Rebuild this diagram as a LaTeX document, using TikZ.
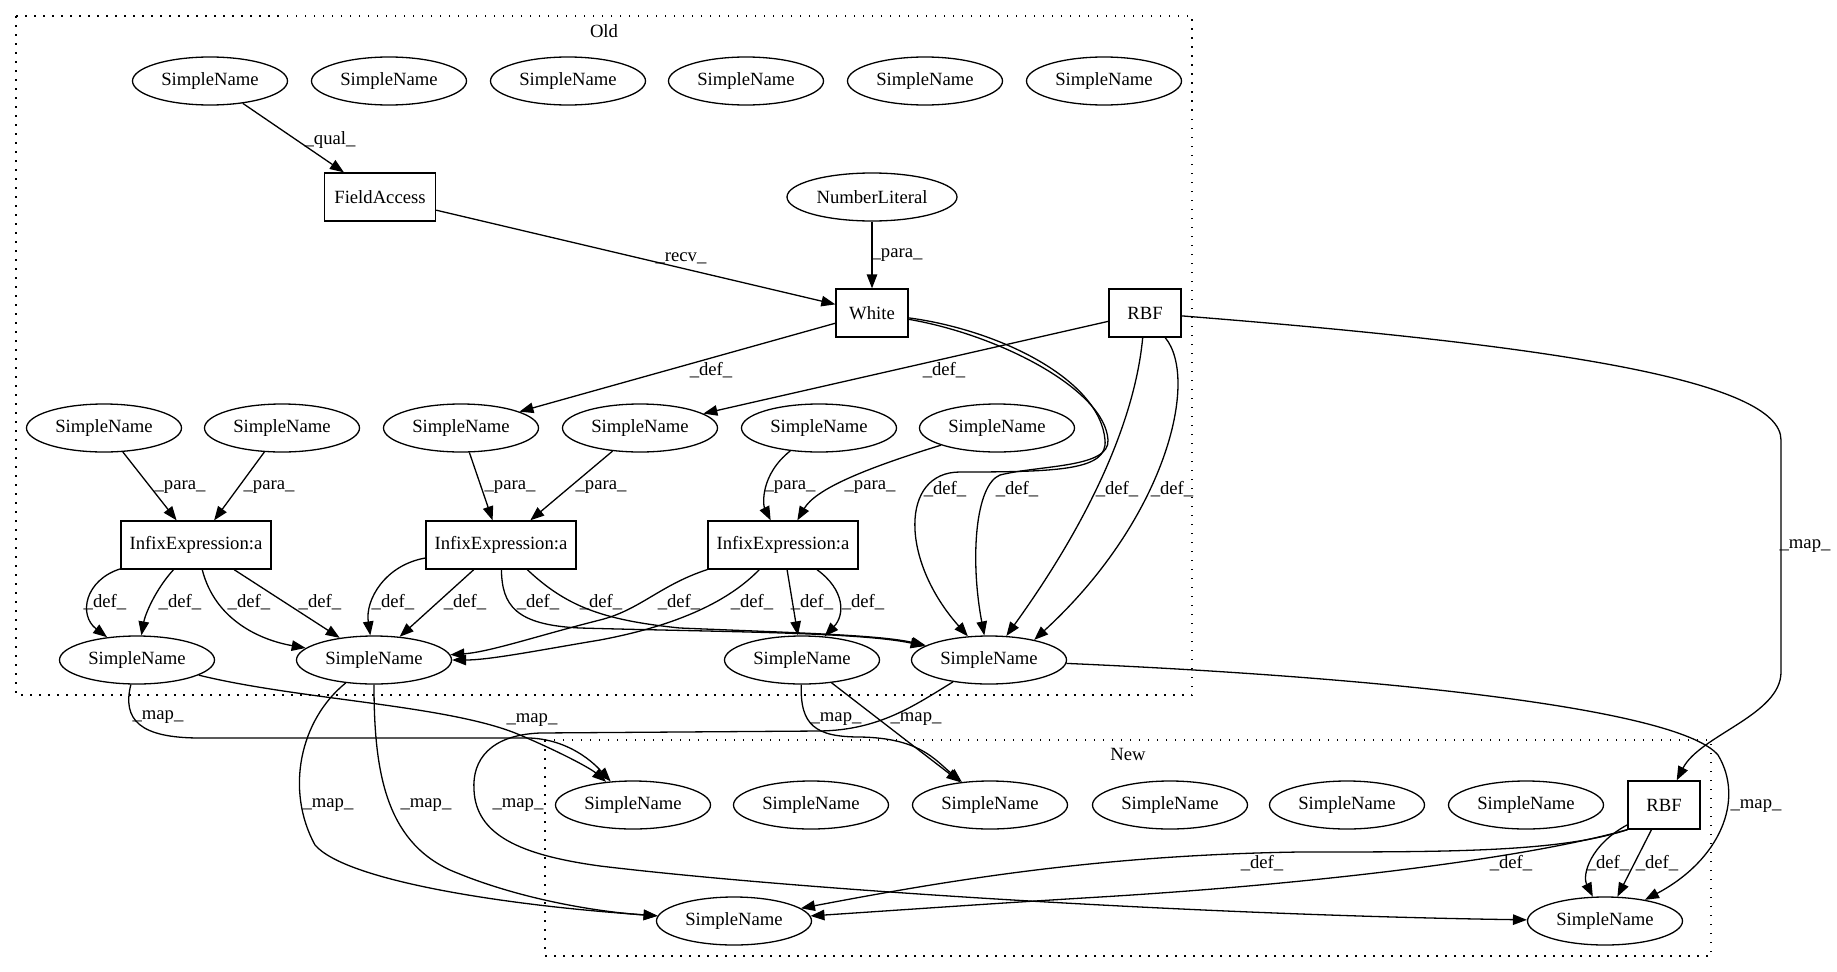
\documentclass[tikz,border=0pt]{standalone}
\usepackage{fontspec}
\setmainfont{Liberation Serif}
\usetikzlibrary{shapes.geometric,arrows.meta}
\begin{document}
\begin{tikzpicture}[x=1pt,y=-1pt,
  font=\fontsize{18.67}{22}\selectfont,
  sn/.style={ellipse,draw,line width=1.3pt,minimum width=155pt,minimum height=48pt,inner sep=0pt},
  bx/.style={rectangle,draw,line width=1.3pt,minimum height=48pt,inner sep=0pt},
  e/.style={line width=1.3pt,-{Triangle[length=14pt,width=10.5pt]}},
  lbl/.style={inner sep=0pt},
  clu/.style={line width=1.3pt,dash pattern=on 1.5pt off 7.5pt}]
\fill[white] (0,0) rectangle (1837,972);
\useasboundingbox (0,0) rectangle (1837,972);
% clusters
\draw[clu] (16,16) rectangle (1192,695);
\node[lbl] (oldlab) at (604,31) {Old};
\draw[clu] (545,740) rectangle (1711,956);
\node[lbl] (newlab) at (1128,754) {New};
% Old: top row
\node[sn] (t1) at (210,81) {SimpleName};
\node[sn] (t2) at (389,81) {SimpleName};
\node[sn] (t3) at (568,81) {SimpleName};
\node[sn] (t4) at (746,81) {SimpleName};
\node[sn] (t5) at (925,81) {SimpleName};
\node[sn] (t6) at (1104,81) {SimpleName};
\node[bx,minimum width=111pt] (fa) at (380,197) {FieldAccess};
\node[sn,minimum width=170pt] (nl) at (872,197) {NumberLiteral};
\node[bx,minimum width=72pt] (white) at (872,313) {White};
\node[bx,minimum width=72pt] (rbf) at (1145,313) {RBF};
% level 2
\node[sn] (a) at (104,428) {SimpleName};
\node[sn] (b) at (282,428) {SimpleName};
\node[sn] (c) at (461,428) {SimpleName};
\node[sn] (d) at (640,428) {SimpleName};
\node[sn] (e) at (819,428) {SimpleName};
\node[sn] (f) at (997,428) {SimpleName};
\node[bx,minimum width=150pt] (i1) at (196,545) {InfixExpression:a};
\node[bx,minimum width=150pt] (i2) at (501,545) {InfixExpression:a};
\node[bx,minimum width=150pt] (i3) at (783,545) {InfixExpression:a};
\node[sn] (g) at (137,660) {SimpleName};
\node[sn] (h) at (374,660) {SimpleName};
\node[sn] (si) at (802,660) {SimpleName};
\node[sn] (j) at (989,660) {SimpleName};
% New
\node[sn] (n1) at (633,805) {SimpleName};
\node[sn] (n2) at (811,805) {SimpleName};
\node[sn] (n3) at (990,805) {SimpleName};
\node[sn] (n4) at (1170,805) {SimpleName};
\node[sn] (n5) at (1347,805) {SimpleName};
\node[sn] (n6) at (1526,805) {SimpleName};
\node[bx,minimum width=72pt] (rbf2) at (1664,805) {RBF};
\node[sn] (k) at (734,921) {SimpleName};
\node[sn] (l) at (1605,921) {SimpleName};
% Old edges
\draw[e] (t1) -- (fa) node[lbl] at (330,140) {\_qual\_};
\draw[e] (fa) -- (white) node[lbl] at (681,258) {\_recv\_};
\draw[e] (nl) -- (white) node[lbl] at (897,255) {\_para\_};
\draw[e] (white) -- (c) node[lbl] at (711,370) {\_def\_};
\draw[e] (rbf) -- (d) node[lbl] at (944,370) {\_def\_};
\draw[e] (white) .. controls (1000,330) and (1100,380) .. (1105,440) .. controls (1108,470) and (1060,472) .. (960,472) .. controls (900,472) and (900,560) .. (j);
\node[lbl] at (945,489) {\_def\_};
\draw[e] (white) .. controls (1000,335) and (1105,390) .. (1108,440) .. controls (1110,468) and (1040,465) .. (1000,475) .. controls (975,485) and (970,560) .. (j);
\node[lbl] at (1017,489) {\_def\_};
\draw[e] (rbf) .. controls (1135,420) and (1090,520) .. (j) node[lbl] at (1117,489) {\_def\_};
\draw[e] (rbf) .. controls (1200,380) and (1165,520) .. (j.24) node[lbl] at (1172,489) {\_def\_};
\draw[e] (a) -- (i1) node[lbl] at (180,487) {\_para\_};
\draw[e] (b) -- (i1) node[lbl] at (269,487) {\_para\_};
\draw[e] (c) -- (i2) node[lbl] at (510,487) {\_para\_};
\draw[e] (d) -- (i2) node[lbl] at (601,487) {\_para\_};
\draw[e] (e) .. controls (760,475) and (763,505) .. (i3) node[lbl] at (790,487) {\_para\_};
\draw[e] (f) .. controls (860,470) and (815,490) .. (i3) node[lbl] at (870,487) {\_para\_};
\draw[e] (i1) .. controls (85,580) and (78,615) .. (g) node[lbl] at (105,602) {\_def\_};
\draw[e] (i1) .. controls (155,590) and (145,615) .. (g) node[lbl] at (180,602) {\_def\_};
\draw[e] (i1) .. controls (215,620) and (260,640) .. (h) node[lbl] at (249,602) {\_def\_};
\draw[e] (i1) -- (h) node[lbl] at (320,602) {\_def\_};
\draw[e] (i2) .. controls (385,565) and (365,600) .. (h) node[lbl] at (393,602) {\_def\_};
\draw[e] (i2) -- (h) node[lbl] at (465,602) {\_def\_};
\draw[e] (i2) .. controls (502,605) and (515,625) .. (580,628) .. controls (720,632) and (860,632) .. (j);
\node[lbl] at (538,602) {\_def\_};
\draw[e] (i2) .. controls (565,605) and (600,620) .. (680,628) .. controls (800,633) and (880,635) .. (j);
\node[lbl] at (601,602) {\_def\_};
\draw[e] (i3) .. controls (660,585) and (640,610) .. (600,620) .. controls (540,635) and (490,652) .. (h);
\node[lbl] at (679,602) {\_def\_};
\draw[e] (i3) .. controls (730,600) and (680,625) .. (600,640) .. controls (540,650) and (490,660) .. (h);
\node[lbl] at (752,602) {\_def\_};
\draw[e] (i3) -- (si) node[lbl] at (812,602) {\_def\_};
\draw[e] (i3) .. controls (845,590) and (845,615) .. (si) node[lbl] at (863,602) {\_def\_};
% map edges
\draw[e] (rbf) .. controls (1550,345) and (1781,380) .. (1781,440) -- (1781,672) .. controls (1781,715) and (1700,735) .. (rbf2);
\node[lbl] at (1805,546) {\_map\_};
\draw[e] (g) .. controls (122,720) and (140,738) .. (200,738) -- (530,738) .. controls (575,740) and (600,770) .. (n1);
\node[lbl] at (158,717) {\_map\_};
\draw[e] (g) .. controls (300,700) and (450,705) .. (520,735) .. controls (560,752) and (590,768) .. (n1);
\node[lbl] at (532,720) {\_map\_};
\draw[e] (h) .. controls (300,720) and (285,790) .. (315,845) .. controls (345,880) and (500,905) .. (k);
\node[lbl] at (328,805) {\_map\_};
\draw[e] (h) .. controls (374,770) and (385,840) .. (450,870) .. controls (520,900) and (600,912) .. (k);
\node[lbl] at (426,805) {\_map\_};
\draw[e] (si) .. controls (800,725) and (815,737) .. (860,737) .. controls (920,738) and (935,760) .. (n3);
\node[lbl] at (836,719) {\_map\_};
\draw[e] (si) -- (n3) node[lbl] at (916,719) {\_map\_};
\draw[e] (j) .. controls (915,705) and (880,730) .. (820,731) -- (540,733) .. controls (490,735) and (472,760) .. (474,790) .. controls (476,835) and (520,855) .. (600,866) .. controls (800,890) and (1200,915) .. (l);
\node[lbl] at (518,805) {\_map\_};
\draw[e] (j) .. controls (1400,678) and (1680,710) .. (1718,755) .. controls (1745,800) and (1720,860) .. (l);
\node[lbl] at (1756,806) {\_map\_};
% New edges
\draw[e] (rbf2.south west) .. controls (1560,852) and (1450,852) .. (1300,852) .. controls (1100,855) and (950,880) .. (k);
\node[lbl] at (1262,863) {\_def\_};
\draw[e] (rbf2.south west) .. controls (1520,860) and (1300,885) .. (1100,897) .. controls (1000,903) and (900,910) .. (k);
\node[lbl] at (1511,863) {\_def\_};
\draw[e] (rbf2) .. controls (1590,845) and (1582,875) .. (l) node[lbl] at (1608,863) {\_def\_};
\draw[e] (rbf2) -- (l) node[lbl] at (1657,863) {\_def\_};
\end{tikzpicture}
\end{document}
